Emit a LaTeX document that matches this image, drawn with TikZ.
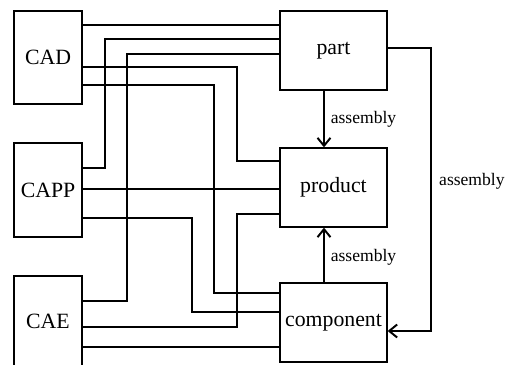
\documentclass[tikz,border=0pt]{standalone}
\usepackage{fontspec}
\setmainfont{Liberation Serif}
\usetikzlibrary{arrows.meta,positioning,calc}

\begin{document}
\begin{tikzpicture}[x=0.02cm,y=-0.02cm,
    every node/.style={font=\fontsize{12.4}{14}\selectfont},
    box/.style={draw,line width=0.75pt,inner sep=0pt},
    sysbox/.style={box,minimum width=1.36cm},
    objbox/.style={box,minimum width=2.14cm,minimum height=1.58cm},
    link/.style={line width=0.65pt},
    flow/.style={line width=1.1pt,-{Straight Barb[length=1.6mm,width=2.6mm]}},
    lbl/.style={font=\fontsize{10}{12}\selectfont}]
  \useasboundingbox (0,0) rectangle (512,365);
  % systems
  \node[sysbox,minimum height=1.86cm] (cad)  at (48,57.5) {CAD};
  \node[sysbox,minimum height=1.88cm] (capp) at (48,190)  {CAPP};
  \node[sysbox,minimum height=1.8cm]  (cae)  at (48,321)  {CAE};
  % objects
  \node[objbox] (part)      at (333.5,50.5)  {part};
  \node[objbox] (product)   at (333.5,187.5) {product};
  \node[objbox] (component) at (333.5,322.5) {component};
  % links
  \draw[link] (cad.east |- 0,25) -- (part.west |- 0,25);
  \draw[link] (cad.east |- 0,67) -| (237,161) -- (product.west |- 0,161);
  \draw[link] (cad.east |- 0,85) -| (214,293) -- (component.west |- 0,293);
  \draw[link] (part.west |- 0,39) -| (105,168) -- (capp.east |- 0,168);
  \draw[link] (part.west |- 0,54) -| (127,301) -- (cae.east |- 0,301);
  \draw[link] (capp.east |- 0,189) -- (product.west |- 0,189);
  \draw[link] (capp.east |- 0,218) -| (192,312) -- (component.west |- 0,312);
  \draw[link] (product.west |- 0,214) -| (237,327) -- (cae.east |- 0,327);
  \draw[link] (cae.east |- 0,347) -- (component.west |- 0,347);
  % assembly
  \draw[flow] (part.south -| 324,0) -- (product.north -| 324,0)
    node[lbl,midway,right]{assembly};
  \draw[flow] (component.north -| 324,0) -- (product.south -| 324,0)
    node[lbl,pos=0.45,right]{assembly};
  \draw[flow] (part.east |- 0,48) -| (431,331) -- (component.east |- 0,331);
  \node[lbl,right] (asm) at (433,181) {assembly};
\end{tikzpicture}
\end{document}
